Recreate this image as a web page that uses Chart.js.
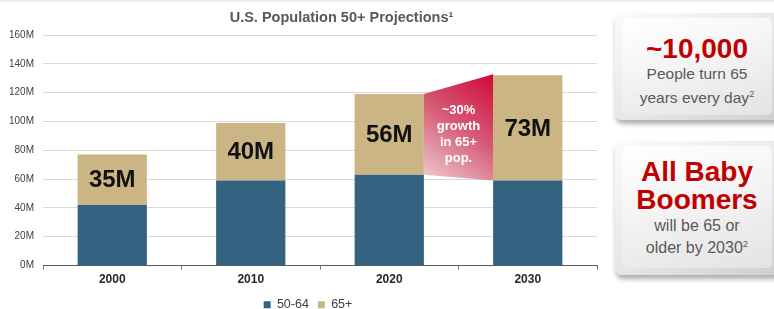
<!DOCTYPE html>
<html><head><meta charset="utf-8">
<script src="https://cdn.jsdelivr.net/npm/chart.js@4.4.1/dist/chart.umd.min.js"></script>
<style>
html,body{margin:0;padding:0;background:#fff;}
#wrap{position:relative;width:774px;height:309px;overflow:hidden;font-family:"Liberation Sans",Arial,sans-serif;}
#topline{position:absolute;left:0;top:0;width:774px;height:2px;background:#f1ece2;}
#c{position:absolute;left:0;top:0;}
#title{position:absolute;top:8px;left:0;width:683px;text-align:center;font-weight:bold;font-size:14.5px;color:#595959;line-height:18px;white-space:nowrap;}
.panel{position:absolute;left:615px;width:175px;border-radius:7px;background:linear-gradient(150deg,#fbfbfb 0%,#e4e4e4 60%,#cdcdcd 100%);box-shadow:1px 4px 5px rgba(0,0,0,0.32);}
.face{position:absolute;left:7px;width:150px;border-radius:5px;background:linear-gradient(165deg,#ffffff 0%,#f4f4f4 45%,#e3e3e3 100%);text-align:center;color:#595959;}
.big{color:#c00000;font-weight:bold;}
sup{font-size:0.6em;line-height:0;vertical-align:0.6em;}
</style>
</head><body>
<div id="wrap">
  <div id="topline"></div>
  <canvas id="c" width="616" height="322"></canvas>
  <div id="title">U.S. Population 50+ Projections¹</div>
  <div class="panel" style="top:13px;height:107px;">
    <div class="face" style="top:5px;height:97px;">
      <div class="big" style="padding-top:18px;font-size:28px;line-height:26px;">~10,000</div>
      <div style="font-size:15.5px;line-height:24px;">People turn 65</div>
      <div style="font-size:15.5px;line-height:23px;">years every day<sup>2</sup></div>
    </div>
  </div>
  <div class="panel" style="top:141px;height:134px;">
    <div class="face" style="top:5px;height:122px;">
      <div class="big" style="padding-top:12px;font-size:28px;line-height:28px;">All Baby</div>
      <div class="big" style="font-size:28px;line-height:28px;">Boomers</div>
      <div style="font-size:16px;line-height:24px;">will be 65 or</div>
      <div style="font-size:16px;line-height:20px;">older by 2030<sup>2</sup></div>
    </div>
  </div>
</div>
<script>
const categories = ['2000', '2010', '2020', '2030'];
const age50to64 = [42, 59, 63, 59];
const age65plus = [35, 40, 56, 73];
const seriesNames = ['50-64', '65+'];
const yMax = 160;
const yStep = 20;
const growthLines = ['~30%', 'growth', 'in 65+', 'pop.'];
const growthFrom = 2; // index of 2020
const growthTo = 3;   // index of 2030

const BLUE = '#336380';
const TAN = '#cbb584';

Chart.defaults.font.family = '"Liberation Sans", Arial, sans-serif';

const segmentLabels = {
  id: 'segmentLabels',
  afterDatasetsDraw(chart) {
    const ctx = chart.ctx;
    const meta = chart.getDatasetMeta(1);
    ctx.save();
    ctx.fillStyle = '#111111';
    ctx.font = 'bold 24px "Liberation Sans", Arial, sans-serif';
    ctx.textAlign = 'center';
    ctx.textBaseline = 'middle';
    meta.data.forEach((bar, i) => {
      const y = (bar.y + bar.base) / 2 + 1;
      ctx.fillText(age65plus[i] + 'M', bar.x, y);
    });
    ctx.restore();
  }
};

const growthShape = {
  id: 'growthShape',
  afterDatasetsDraw(chart) {
    const ctx = chart.ctx;
    const m0 = chart.getDatasetMeta(0), m1 = chart.getDatasetMeta(1);
    const a = m1.data[growthFrom], b = m1.data[growthTo];
    const x1 = a.x + a.width / 2, x2 = b.x - b.width / 2;
    const yT1 = a.y, yT2 = b.y - 1;
    const yB1 = m0.data[growthFrom].y, yB2 = m0.data[growthTo].y;
    ctx.save();
    const g = ctx.createLinearGradient(x1, yB1, x2, yT2);
    g.addColorStop(0, '#ecc4cb');
    g.addColorStop(0.5, '#d65a74');
    g.addColorStop(1, '#d0093a');
    ctx.fillStyle = g;
    ctx.beginPath();
    ctx.moveTo(x1, yT1);
    ctx.lineTo(x2, yT2);
    ctx.lineTo(x2, yB2);
    ctx.lineTo(x1, yB1);
    ctx.closePath();
    ctx.fill();
    ctx.fillStyle = '#ffffff';
    ctx.font = 'bold 13px "Liberation Sans", Arial, sans-serif';
    ctx.textAlign = 'center';
    ctx.textBaseline = 'middle';
    const cx = (x1 + x2) / 2;
    const cy = (yT1 + yB1) / 2;
    const lh = 16.3;
    growthLines.forEach((t, i) => {
      ctx.fillText(t, cx, cy + (i - (growthLines.length - 1) / 2) * lh);
    });
    ctx.restore();
  }
};

new Chart(document.getElementById('c'), {
  type: 'bar',
  data: {
    labels: categories,
    datasets: [
      { label: seriesNames[0], data: age50to64, backgroundColor: BLUE, borderWidth: 0 },
      { label: seriesNames[1], data: age65plus, backgroundColor: TAN, borderWidth: 0 }
    ]
  },
  options: {
    responsive: false,
    animation: false,
    devicePixelRatio: 1,
    layout: { autoPadding: false, padding: { top: 35, left: 0, right: 0, bottom: 1 } },
    datasets: { bar: { categoryPercentage: 1, barPercentage: 0.5 } },
    scales: {
      x: {
        stacked: true,
        grid: { drawOnChartArea: false, drawTicks: true, tickLength: 4, color: '#6f6f6f', offset: true },
        border: { display: true, color: '#595959', width: 1 },
        ticks: { color: '#262626', font: { size: 12, weight: 'bold' }, padding: 2.8 }
      },
      y: {
        stacked: true,
        min: 0, max: yMax,
        afterFit: s => { s.width = 43; },
        grid: { color: '#dadada', drawTicks: false, lineWidth: 1 },
        border: { display: false },
        ticks: { stepSize: yStep, padding: 9, color: '#404040', font: { size: 10 }, callback: v => v + 'M' }
      },
      spacer: {
        type: 'linear',
        position: 'right',
        display: true,
        afterFit: s => { s.width = 19; },
        grid: { display: false, drawTicks: false },
        border: { display: false },
        ticks: { display: false }
      }
    },
    plugins: {
      title: { display: false },
      tooltip: { enabled: false },
      legend: {
        position: 'bottom',
        labels: { boxWidth: 7, boxHeight: 7, padding: 9, color: '#404040', font: { size: 12.5 } }
      }
    }
  },
  plugins: [growthShape, segmentLabels]
});
</script>
</body></html>
